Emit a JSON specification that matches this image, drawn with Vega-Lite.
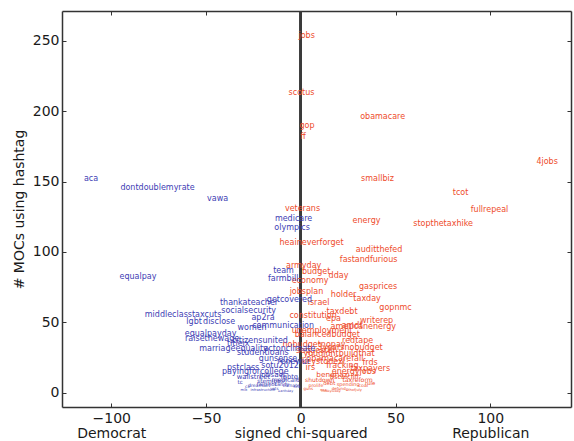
{
  "$schema": "https://vega.github.io/schema/vega-lite/v6.json",
  "width": 509,
  "height": 396,
  "autosize": {"type": "none"},
  "padding": {"left": 62, "top": 11, "right": 3, "bottom": 34},
  "background": "white",
  "config": {
    "view": {"stroke": null},
    "font": "DejaVu Sans",
    "axis": {
      "grid": false,
      "domainColor": "#333333",
      "domainWidth": 1.5,
      "tickColor": "#333333",
      "tickWidth": 1,
      "tickSize": -4,
      "labelFont": "DejaVu Sans",
      "labelFontSize": 14,
      "labelColor": "#1a1a1a",
      "titleFont": "DejaVu Sans",
      "titleFontSize": 14,
      "titleFontWeight": "normal",
      "titleColor": "#1a1a1a"
    }
  },
  "data": {
    "values": [
      {"tag": "jobs", "chi": 3.1, "n": 253},
      {"tag": "scotus", "chi": 0.4, "n": 212.8},
      {"tag": "gop", "chi": 3.3, "n": 189.1},
      {"tag": "ff", "chi": 1.2, "n": 181.6},
      {"tag": "obamacare", "chi": 43.2, "n": 195.7},
      {"tag": "4jobs", "chi": 130, "n": 163.8},
      {"tag": "smallbiz", "chi": 40.5, "n": 152.1},
      {"tag": "tcot", "chi": 84.3, "n": 141.8},
      {"tag": "fullrepeal", "chi": 99.6, "n": 130.1},
      {"tag": "stopthetaxhike", "chi": 75.1, "n": 120.1},
      {"tag": "energy", "chi": 34.7, "n": 121.8},
      {"tag": "veterans", "chi": 0.9, "n": 130.8},
      {"tag": "heaineverforget", "chi": 5.7, "n": 106.7},
      {"tag": "auditthefed", "chi": 41.3, "n": 101.7},
      {"tag": "fastandfurious", "chi": 35.8, "n": 94.6},
      {"tag": "armyday", "chi": 1.5, "n": 89.9},
      {"tag": "budget", "chi": 8.1, "n": 85.8},
      {"tag": "dday", "chi": 19.9, "n": 82.8},
      {"tag": "economy", "chi": 4.9, "n": 79.4},
      {"tag": "gasprices", "chi": 40.8, "n": 74.8},
      {"tag": "jobsplan", "chi": 3, "n": 71.5},
      {"tag": "holder", "chi": 22.6, "n": 69.8},
      {"tag": "taxday", "chi": 35, "n": 66.5},
      {"tag": "gopnmc", "chi": 50, "n": 60.6},
      {"tag": "israel", "chi": 9.4, "n": 63.8},
      {"tag": "taxdebt", "chi": 21.8, "n": 57.4},
      {"tag": "constitution", "chi": 6.5, "n": 54.4},
      {"tag": "epa", "chi": 17.3, "n": 52.3},
      {"tag": "writerep", "chi": 40, "n": 51.1},
      {"tag": "amdt", "chi": 27.1, "n": 47.3},
      {"tag": "americanenergy", "chi": 33, "n": 46.5},
      {"tag": "unemployment", "chi": 11.2, "n": 44},
      {"tag": "redtape", "chi": 30, "n": 36.9},
      {"tag": "nobudgetnopay", "chi": 7, "n": 34},
      {"tag": "3yearsnobudget", "chi": 26, "n": 31.9},
      {"tag": "youdidntbuildthat", "chi": 20.2, "n": 27.5},
      {"tag": "frds", "chi": 36.6, "n": 20.9},
      {"tag": "taxpayers", "chi": 36.6, "n": 16.8},
      {"tag": "rule", "chi": 36.6, "n": 6.9},
      {"tag": "balancedbudget", "chi": 14, "n": 41},
      {"tag": "sequester", "chi": 8, "n": 30},
      {"tag": "keystonexl", "chi": 12, "n": 22},
      {"tag": "obamacarefail", "chi": 18, "n": 24},
      {"tag": "fracking", "chi": 22, "n": 19},
      {"tag": "irs", "chi": 5, "n": 18},
      {"tag": "energyjobs", "chi": 28, "n": 15},
      {"tag": "benghazi", "chi": 17, "n": 13},
      {"tag": "fiscalcliff", "chi": 23, "n": 11},
      {"tag": "taxreform", "chi": 30, "n": 9.5},
      {"tag": "shutdown", "chi": 10, "n": 9},
      {"tag": "debt", "chi": 15, "n": 7},
      {"tag": "spending", "chi": 25, "n": 6},
      {"tag": "coal", "chi": 33, "n": 5},
      {"tag": "prolife", "chi": 8, "n": 5},
      {"tag": "defund", "chi": 20, "n": 3},
      {"tag": "guns", "chi": 4, "n": 3},
      {"tag": "nsa", "chi": 12, "n": 2},
      {"tag": "4thofjuly", "chi": 28, "n": 2},
      {"tag": "hobbylobby", "chi": 16, "n": 1},
      {"tag": "aca", "chi": -110.7, "n": 152.1},
      {"tag": "dontdoublemyrate", "chi": -75.6, "n": 145.7},
      {"tag": "vawa", "chi": -43.9, "n": 137.9},
      {"tag": "medicare", "chi": -3.8, "n": 123.7},
      {"tag": "olympics", "chi": -4.6, "n": 117.3},
      {"tag": "equalpay", "chi": -85.9, "n": 82.3},
      {"tag": "team", "chi": -9.1, "n": 86.5},
      {"tag": "farmbill", "chi": -9.3, "n": 81.1},
      {"tag": "getcovered", "chi": -6, "n": 66},
      {"tag": "thankateacher", "chi": -27.3, "n": 63.8},
      {"tag": "socialsecurity", "chi": -27.5, "n": 58.2},
      {"tag": "middleclasstaxcuts", "chi": -62.1, "n": 55.1},
      {"tag": "lgbt", "chi": -56.3, "n": 50.4},
      {"tag": "disclose", "chi": -43.1, "n": 50.4},
      {"tag": "ap2ra", "chi": -19.9, "n": 52.8},
      {"tag": "women", "chi": -25.7, "n": 45.9},
      {"tag": "communication", "chi": -9.3, "n": 47.3},
      {"tag": "equalpayday", "chi": -47.6, "n": 42.1},
      {"tag": "raisethewage", "chi": -46.8, "n": 37.9},
      {"tag": "citizensunited", "chi": -21.5, "n": 36.9},
      {"tag": "titleix", "chi": -33, "n": 34.5},
      {"tag": "marriageequality", "chi": -35.5, "n": 31.2},
      {"tag": "actonclimate", "chi": -6, "n": 31},
      {"tag": "studentloans", "chi": -20, "n": 28},
      {"tag": "gunsense", "chi": -12, "n": 24},
      {"tag": "renewui", "chi": -4, "n": 22},
      {"tag": "sotu2012", "chi": -10.9, "n": 18.9},
      {"tag": "pstclass", "chi": -30.4, "n": 18},
      {"tag": "payingforcollege", "chi": -24, "n": 15},
      {"tag": "jobsact", "chi": -15, "n": 13},
      {"tag": "wallstreet", "chi": -25, "n": 11.5},
      {"tag": "lgbtq", "chi": -6, "n": 11},
      {"tag": "medicaid", "chi": -8, "n": 9.5},
      {"tag": "stemjobs", "chi": -16, "n": 8.5},
      {"tag": "tc", "chi": -32, "n": 8},
      {"tag": "fairshot", "chi": -18, "n": 6.5},
      {"tag": "sandy", "chi": -10, "n": 6},
      {"tag": "dreamact", "chi": -22, "n": 5},
      {"tag": "climate", "chi": -5, "n": 5},
      {"tag": "cir", "chi": -28, "n": 4},
      {"tag": "nra", "chi": -2, "n": 4},
      {"tag": "vets", "chi": -14, "n": 3},
      {"tag": "infrastructure", "chi": -20, "n": 2},
      {"tag": "mlk", "chi": -30, "n": 2},
      {"tag": "earthday", "chi": -8, "n": 1}
    ]
  },
  "layer": [
    {
      "mark": {"type": "rule", "color": "#3a3a3a", "strokeWidth": 1.6},
      "encoding": {
        "x": {"datum": 0, "type": "quantitative", "axis": null}
      }
    },
    {
      "mark": {"type": "text", "font": "DejaVu Sans", "align": "center", "baseline": "middle"},
      "encoding": {
        "x": {
          "field": "chi",
          "type": "quantitative",
          "scale": {"domain": [-126, 142.6], "nice": false, "zero": false},
          "axis": {
            "orient": "bottom",
            "values": [-100, -50, 0, 50, 100],
            "labelPadding": 8,
            "labelBaseline": "top",
            "labelLineHeight": 15,
            "labelExpr": "datum.value == -100 ? [datum.label, 'Democrat'] : datum.value == 0 ? ['0', 'signed chi-squared'] : datum.value == 100 ? [datum.label, 'Republican'] : datum.label",
            "title": null
          }
        },
        "y": {
          "field": "n",
          "type": "quantitative",
          "scale": {"domain": [-10, 271], "nice": false, "zero": false},
          "axis": {
            "orient": "left",
            "values": [0, 50, 100, 150, 200, 250],
            "labelPadding": 7,
            "title": "# MOCs using hashtag",
            "titlePadding": 6
          }
        },
        "text": {"field": "tag", "type": "nominal"},
        "size": {
          "field": "n",
          "type": "quantitative",
          "scale": {"domain": [0, 15], "range": [3, 8], "clamp": true},
          "legend": null
        },
        "color": {
          "condition": {"test": "datum.chi < 0", "value": "#4040b4"},
          "value": "#ee4b2b"
        }
      }
    },
    {
      "mark": {"type": "point", "opacity": 0},
      "encoding": {
        "x": {
          "field": "chi",
          "type": "quantitative",
          "axis": {"orient": "top", "values": [-100, -50, 0, 50, 100], "labels": false, "title": null}
        },
        "y": {
          "field": "n",
          "type": "quantitative",
          "axis": {"orient": "right", "values": [0, 50, 100, 150, 200, 250], "labels": false, "title": null}
        }
      }
    }
  ],
  "resolve": {"axis": {"x": "independent", "y": "independent"}}
}
